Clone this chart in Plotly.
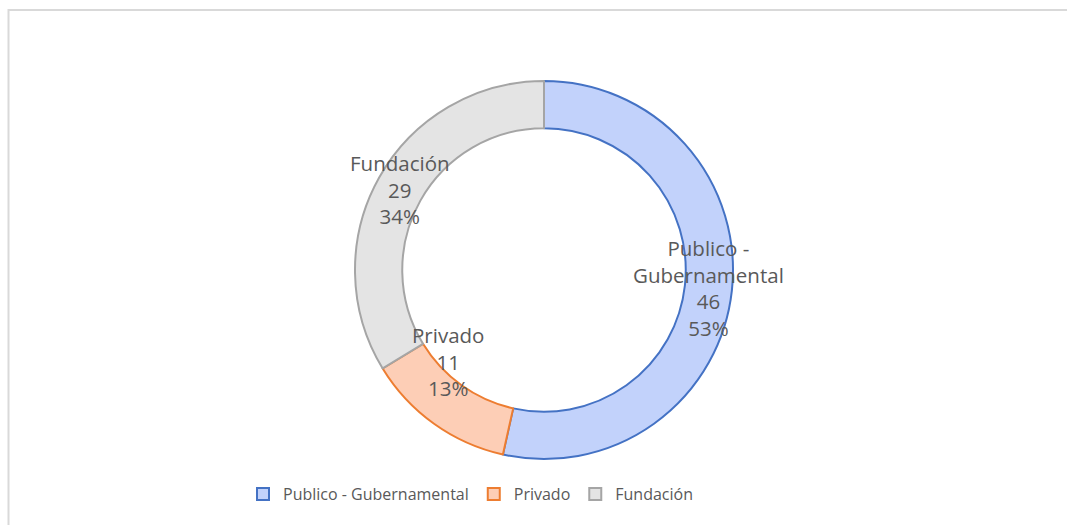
import math
import plotly.graph_objects as go

labels = ["Publico - Gubernamental", "Privado", "Fundación"]
values = [46, 11, 29]
percents = ["53%", "13%", "34%"]
label_lines = ["Publico -<br>Gubernamental", "Privado", "Fundación"]

fills = ["#c2d2fb", "#fdceb6", "#e4e4e4"]
borders = ["#4472c4", "#ed7d31", "#a5a5a5"]

W, H = 1067, 525
cx, cy, r_out = 544, 270, 189
hole = 0.75

fig = go.Figure(go.Pie(
    labels=labels,
    values=values,
    sort=False,
    direction="clockwise",
    rotation=0,
    hole=hole,
    marker=dict(colors=fills, line=dict(color=borders, width=2)),
    textinfo="none",
    hoverinfo="label+value+percent",
    domain=dict(x=[(cx - r_out) / W, (cx + r_out) / W],
                y=[(H - cy - r_out) / H, (H - cy + r_out) / H]),
))

# data labels in the middle of each ring segment
total = sum(values)
r_mid = r_out * (1 + hole) / 2
cum = 0
for lab, v, pct in zip(label_lines, values, percents):
    ang = 2 * math.pi * (cum + v / 2) / total
    cum += v
    lx = cx + r_mid * math.sin(ang)
    ly = cy - r_mid * math.cos(ang)
    fig.add_annotation(
        x=lx / W, y=1 - ly / H, xref="paper", yref="paper",
        text=f"{lab}<br>{v}<br>{pct}", showarrow=False,
        font=dict(family="Open Sans", size=20.5, color="#595959"),
        align="center",
    )

# chart frame (runs off the right and bottom edges)
fig.add_shape(type="rect", xref="paper", yref="paper",
              x0=8.5 / W, x1=1.1, y0=-0.1, y1=1 - 10 / H,
              line=dict(color="#d9d9d9", width=2), layer="below")

fig.update_layout(
    width=W, height=H,
    margin=dict(l=0, r=0, t=0, b=0),
    paper_bgcolor="white",
    plot_bgcolor="white",
    showlegend=True,
    legend=dict(orientation="h", x=243 / W, xanchor="left",
                y=1 - 494 / H, yanchor="middle",
                font=dict(family="Open Sans", size=16, color="#595959"),
                itemwidth=30, traceorder="normal"),
)

fig.write_html("out.html",
               config={"displayModeBar": False},
               post_script="document.body.style.margin='0';"
                           "document.body.style.overflow='hidden';")
